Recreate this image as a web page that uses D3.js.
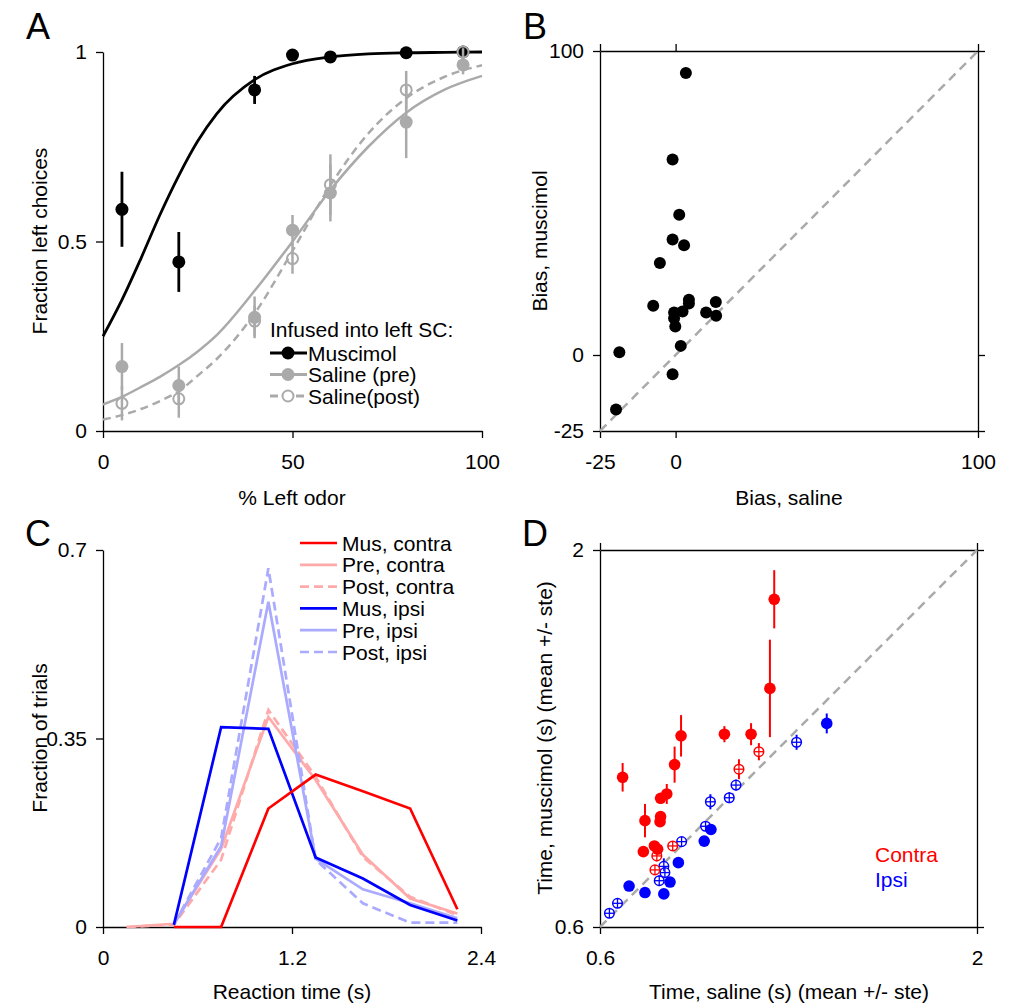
<!DOCTYPE html>
<html>
<head>
<meta charset="utf-8">
<title>Muscimol in SC</title>
<script src="https://d3js.org/d3.v7.min.js"></script>
<style>
body { margin: 0; background: #fff; }
svg text { font-family: "Liberation Sans", Arial, sans-serif; fill: #000; }
.axis path, .axis line { stroke: #000; stroke-width: 1.3; }
.axis text { font-size: 21px; }
.lbl { font-size: 21px; }
.panel { font-size: 36px; }
</style>
</head>
<body>
<svg id="fig" width="1020" height="1008"></svg>
<script>

// ---- A: psychometric data ----
const pctLeft = [5, 20, 40, 50, 60, 80, 95];
const muscimolFrac = [0.585, 0.446, 0.90, 0.992, 0.987, 0.998, 1.0];
const muscimolErr  = [0.099, 0.079, 0.037, 0.01, 0.01, 0.005, 0.005];
const salinePreFrac = [0.17, 0.12, 0.30, 0.53, 0.628, 0.815, 0.966];
const salinePreErr  = [0.062, 0.05, 0.055, 0.04, 0.075, 0.095, 0.025];
const salinePostFrac = [0.073, 0.085, 0.29, 0.455, 0.65, 0.90, 1.0];
const salinePostErr  = [0.045, 0.05, 0.04, 0.04, 0.08, 0.05, 0.01];
// fitted curves
const fitX = [0, 5, 10, 15, 20, 25, 30, 40, 50, 60, 70, 80, 90, 100];
const fitMuscimol = [0.25, 0.346, 0.455, 0.57, 0.674, 0.765, 0.837, 0.927, 0.969, 0.987, 0.995, 0.998, 0.999, 1.0];
const fitPre  = [0.07, 0.09, 0.116, 0.143, 0.174, 0.21, 0.253, 0.37, 0.50, 0.636, 0.75, 0.84, 0.90, 0.937];
const fitPost = [0.03, 0.042, 0.058, 0.079, 0.105, 0.146, 0.19, 0.31, 0.475, 0.648, 0.785, 0.878, 0.934, 0.965];

// ---- B: bias ----
const biasSaline   = [3.4, -1.0, 1.2, -1.0, 2.8, -5.2, -7.4, -0.5, -0.5, -0.1, 2.3, 4.4, 4.4, 10.1, 13.3, 13.4, 1.7, -18.6, -1.0, -19.7];
const biasMuscimol = [92.8, 64.3, 46.1, 38.0, 36.1, 30.3, 16.2, 14.0, 12.1, 9.4, 14.3, 18.2, 16.9, 14.0, 17.4, 12.9, 3.0, 0.9, -6.3, -17.9];

// ---- C: RT histograms ----
const rtBins = [0.15, 0.45, 0.75, 1.05, 1.35, 1.65, 1.95, 2.25];
const musContra  = [null, 0, 0, 0.22, 0.283, 0.252, 0.22, 0.033];
const preContra  = [0, 0.006, 0.145, 0.39, 0.273, 0.134, 0.053, 0.025];
const postContra = [0, 0.004, 0.125, 0.403, 0.279, 0.13, 0.056, 0.022];
const musIpsi    = [null, 0.004, 0.371, 0.368, 0.129, 0.09, 0.041, 0.012];
const preIpsi    = [null, 0.005, 0.15, 0.604, 0.127, 0.07, 0.044, 0.016];
const postIpsi   = [null, 0.005, 0.165, 0.666, 0.125, 0.044, 0.008, 0.008];

// ---- D: mean times ----
const contraPreX   = [1.247, 1.231, 0.901, 1.062, 1.161, 0.684, 0.877, 0.848, 0.825, 0.825, 0.823, 0.767, 0.761, 0.802, 0.814];
const contraPreY   = [1.817, 1.486, 1.310, 1.316, 1.316, 1.156, 1.203, 1.094, 1.078, 1.010, 0.991, 0.995, 0.880, 0.901, 0.889];
const contraPreErr = [0.108, 0.181, 0.077, 0.030, 0.041, 0.053, 0.067, 0.037, 0.015, 0.02, 0.015, 0.062, 0.012, 0.012, 0.012];
const contraPostX   = [1.190, 1.116, 0.870, 0.811, 0.804];
const contraPostY   = [1.251, 1.186, 0.901, 0.864, 0.812];
const contraPostErr = [0.032, 0.037, 0.015, 0.02, 0.015];
const ipsiPreX   = [1.442, 1.012, 0.987, 0.891, 0.860, 0.837, 0.767, 0.708];
const ipsiPreY   = [1.356, 0.962, 0.919, 0.839, 0.767, 0.723, 0.728, 0.752];
const ipsiPreErr = [0.037, 0.01, 0.01, 0.01, 0.01, 0.01, 0.01, 0.01];
const ipsiPostX   = [1.330, 1.105, 1.080, 1.010, 0.992, 0.903, 0.837, 0.841, 0.820, 0.665, 0.635];
const ipsiPostY   = [1.286, 1.127, 1.080, 1.065, 0.974, 0.917, 0.825, 0.802, 0.772, 0.688, 0.651];
const ipsiPostErr = [0.028, 0.02, 0.02, 0.028, 0.015, 0.015, 0.03, 0.015, 0.02, 0.01, 0.01];

const RED = '#ff0000', PINK = '#ffaaaa', BLUE = '#0000ff', LBLUE = '#aaaaff', GRAY = '#aaaaaa';

const svg = d3.select('#fig');
const fmt = d => String(d);

function drawAxes(x, y, xTicks, yTicks, box) {
  svg.append('g').attr('class', 'axis')
    .attr('transform', 'translate(0,' + y.range()[0] + ')')
    .call(d3.axisBottom(x).tickValues(xTicks).tickFormat(fmt).tickSize(7).tickSizeOuter(0).tickPadding(16));
  svg.append('g').attr('class', 'axis')
    .attr('transform', 'translate(' + x.range()[0] + ',0)')
    .call(d3.axisLeft(y).tickValues(yTicks).tickFormat(fmt).tickSize(7).tickSizeOuter(0).tickPadding(9));
  if (box) {
    svg.append('g').attr('class', 'axis')
      .attr('transform', 'translate(0,' + y.range()[1] + ')')
      .call(d3.axisTop(x).tickValues(xTicks).tickFormat('').tickSize(7).tickSizeOuter(0));
    svg.append('g').attr('class', 'axis')
      .attr('transform', 'translate(' + x.range()[1] + ',0)')
      .call(d3.axisRight(y).tickValues(yTicks).tickFormat('').tickSize(7).tickSizeOuter(0));
  }
}

function xLabel(text, x, y) {
  svg.append('text').attr('class', 'lbl').attr('x', x).attr('y', y)
    .attr('text-anchor', 'middle').text(text);
}
function yLabel(text, x, y) {
  svg.append('text').attr('class', 'lbl').attr('text-anchor', 'middle')
    .attr('transform', 'translate(' + x + ',' + y + ') rotate(-90)').text(text);
}
function panelLetter(text, x, y) {
  svg.append('text').attr('class', 'panel').attr('x', x).attr('y', y)
    .attr('text-anchor', 'middle').text(text);
}

// ================= Panel A =================
const xA = d3.scaleLinear().domain([0, 100]).range([103, 482]);
const yA = d3.scaleLinear().domain([0, 1]).range([431, 52]);
drawAxes(xA, yA, [0, 50, 100], [0, 0.5, 1], false);

const fitLine = d3.line().x(d => xA(d[0])).y(d => yA(d[1])).curve(d3.curveMonotoneX);

function psychSeries(fitY, vals, errs, color, dashed, open, lw) {
  svg.append('path')
    .attr('d', fitLine(fitX.map((v, i) => [v, fitY[i]])))
    .attr('fill', 'none').attr('stroke', color).attr('stroke-width', lw)
    .attr('stroke-dasharray', dashed ? '8,5' : null);
  const g = svg.append('g');
  g.selectAll('line').data(pctLeft).enter().append('line')
    .attr('x1', d => xA(d)).attr('x2', d => xA(d))
    .attr('y1', (d, i) => yA(vals[i] - errs[i]))
    .attr('y2', (d, i) => yA(vals[i] + errs[i]))
    .attr('stroke', color).attr('stroke-width', lw);
  g.selectAll('circle').data(pctLeft).enter().append('circle')
    .attr('cx', d => xA(d)).attr('cy', (d, i) => yA(vals[i]))
    .attr('r', open ? 5.5 : 6.5)
    .attr('fill', open ? 'none' : color)
    .attr('stroke', open ? color : 'none').attr('stroke-width', 2);
}
psychSeries(fitMuscimol, muscimolFrac, muscimolErr, '#000', false, false, 2.8);
psychSeries(fitPre, salinePreFrac, salinePreErr, GRAY, false, false, 2.5);
psychSeries(fitPost, salinePostFrac, salinePostErr, GRAY, true, true, 2.5);

// legend A
const legA = [
  {name: 'Muscimol', color: '#000', dashed: false, open: false},
  {name: 'Saline (pre)', color: GRAY, dashed: false, open: false},
  {name: 'Saline(post)', color: GRAY, dashed: true, open: true}
];
svg.append('text').attr('class', 'lbl').attr('x', 270).attr('y', 337).text('Infused into left SC:');
legA.forEach((d, i) => {
  const cy = 353 + i * 21.5;
  svg.append('line').attr('x1', 270).attr('x2', 307).attr('y1', cy).attr('y2', cy)
    .attr('stroke', d.color).attr('stroke-width', 2.8)
    .attr('stroke-dasharray', d.dashed ? '8,5' : null);
  svg.append('circle').attr('cx', 288).attr('cy', cy).attr('r', d.open ? 5.5 : 6.5)
    .attr('fill', d.open ? '#fff' : d.color)
    .attr('stroke', d.open ? d.color : 'none').attr('stroke-width', 2);
  svg.append('text').attr('class', 'lbl').attr('x', 308).attr('y', cy + 7.5).text(d.name);
});
yLabel('Fraction left choices', 47, 241);
xLabel('% Left odor', 292, 505);
panelLetter('A', 38, 39);

// ================= Panel B =================
const xB = d3.scaleLinear().domain([-25, 100]).range([600, 978]);
const yB = d3.scaleLinear().domain([-25, 100]).range([431, 51]);
drawAxes(xB, yB, [-25, 0, 100], [-25, 0, 100], true);
svg.append('line')
  .attr('x1', xB(-25)).attr('y1', yB(-25)).attr('x2', xB(100)).attr('y2', yB(100))
  .attr('stroke', GRAY).attr('stroke-width', 2.5).attr('stroke-dasharray', '9,6');
svg.append('g').selectAll('circle').data(biasSaline).enter().append('circle')
  .attr('cx', d => xB(d)).attr('cy', (d, i) => yB(biasMuscimol[i]))
  .attr('r', 6).attr('fill', '#000');
yLabel('Bias, muscimol', 547, 241);
xLabel('Bias, saline', 789, 505);
panelLetter('B', 535, 39);

// ================= Panel C =================
const xC = d3.scaleLinear().domain([0, 2.4]).range([103, 481]);
const yC = d3.scaleLinear().domain([0, 0.7]).range([927, 550]);
drawAxes(xC, yC, [0, 1.2, 2.4], [0, 0.35, 0.7], false);

const rtLine = d3.line().defined(d => d[1] !== null)
  .x(d => xC(d[0])).y(d => yC(d[1]));
const rtSeries = [
  {name: 'Mus, contra',  vals: musContra,  color: RED,   dashed: false},
  {name: 'Pre, contra',  vals: preContra,  color: PINK,  dashed: false},
  {name: 'Post, contra', vals: postContra, color: PINK,  dashed: true},
  {name: 'Mus, ipsi',    vals: musIpsi,    color: BLUE,  dashed: false},
  {name: 'Pre, ipsi',    vals: preIpsi,    color: LBLUE, dashed: false},
  {name: 'Post, ipsi',   vals: postIpsi,   color: LBLUE, dashed: true}
];
const drawOrder = [1, 2, 4, 5, 3, 0];
drawOrder.forEach(k => {
  const s = rtSeries[k];
  svg.append('path')
    .attr('d', rtLine(rtBins.map((b, i) => [b, s.vals[i]])))
    .attr('fill', 'none').attr('stroke', s.color).attr('stroke-width', 2.7)
    .attr('stroke-linejoin', 'miter')
    .attr('stroke-dasharray', s.dashed ? '9,5' : null);
});
rtSeries.forEach((s, i) => {
  const cy = 543 + i * 21.8;
  svg.append('line').attr('x1', 300).attr('x2', 337).attr('y1', cy).attr('y2', cy)
    .attr('stroke', s.color).attr('stroke-width', 2.7)
    .attr('stroke-dasharray', s.dashed ? '9,5' : null);
  svg.append('text').attr('class', 'lbl').attr('x', 342).attr('y', cy + 7.5).text(s.name);
});
yLabel('Fraction of trials', 47, 738);
xLabel('Reaction time (s)', 292, 999);
panelLetter('C', 38, 546);

// ================= Panel D =================
const xD = d3.scaleLinear().domain([0.6, 2]).range([600, 977]);
const yD = d3.scaleLinear().domain([0.6, 2]).range([927, 550]);
drawAxes(xD, yD, [0.6, 2], [0.6, 2], true);
svg.append('line')
  .attr('x1', xD(0.6)).attr('y1', yD(0.6)).attr('x2', xD(2)).attr('y2', yD(2))
  .attr('stroke', GRAY).attr('stroke-width', 2.5).attr('stroke-dasharray', '9,6');

function timeSeries(xs, ys, errs, color, open) {
  const g = svg.append('g');
  g.selectAll('line.err').data(xs).enter().append('line')
    .attr('x1', d => xD(d)).attr('x2', d => xD(d))
    .attr('y1', (d, i) => yD(ys[i] - errs[i]))
    .attr('y2', (d, i) => yD(ys[i] + errs[i]))
    .attr('stroke', color).attr('stroke-width', 2);
  if (open) {
    g.selectAll('circle').data(xs).enter().append('circle')
      .attr('cx', d => xD(d)).attr('cy', (d, i) => yD(ys[i]))
      .attr('r', 4.8).attr('fill', '#fff').attr('stroke', color).attr('stroke-width', 1.5);
    g.selectAll('line.h').data(xs).enter().append('line')
      .attr('x1', d => xD(d) - 4.8).attr('x2', d => xD(d) + 4.8)
      .attr('y1', (d, i) => yD(ys[i])).attr('y2', (d, i) => yD(ys[i]))
      .attr('stroke', color).attr('stroke-width', 1.3);
    g.selectAll('line.v').data(xs).enter().append('line')
      .attr('x1', d => xD(d)).attr('x2', d => xD(d))
      .attr('y1', (d, i) => yD(ys[i]) - 4.8).attr('y2', (d, i) => yD(ys[i]) + 4.8)
      .attr('stroke', color).attr('stroke-width', 1.3);
  } else {
    g.selectAll('circle').data(xs).enter().append('circle')
      .attr('cx', d => xD(d)).attr('cy', (d, i) => yD(ys[i]))
      .attr('r', 5.8).attr('fill', color);
  }
}
timeSeries(ipsiPostX, ipsiPostY, ipsiPostErr, BLUE, true);
timeSeries(ipsiPreX, ipsiPreY, ipsiPreErr, BLUE, false);
timeSeries(contraPostX, contraPostY, contraPostErr, RED, true);
timeSeries(contraPreX, contraPreY, contraPreErr, RED, false);

svg.append('text').attr('class', 'lbl').attr('x', 875).attr('y', 862)
  .style('fill', RED).text('Contra');
svg.append('text').attr('class', 'lbl').attr('x', 875).attr('y', 887)
  .style('fill', BLUE).text('Ipsi');
yLabel('Time, muscimol (s) (mean +/- ste)', 552, 738);
xLabel('Time, saline (s) (mean +/- ste)', 789, 999);
panelLetter('D', 535, 546);

</script>
</body>
</html>
